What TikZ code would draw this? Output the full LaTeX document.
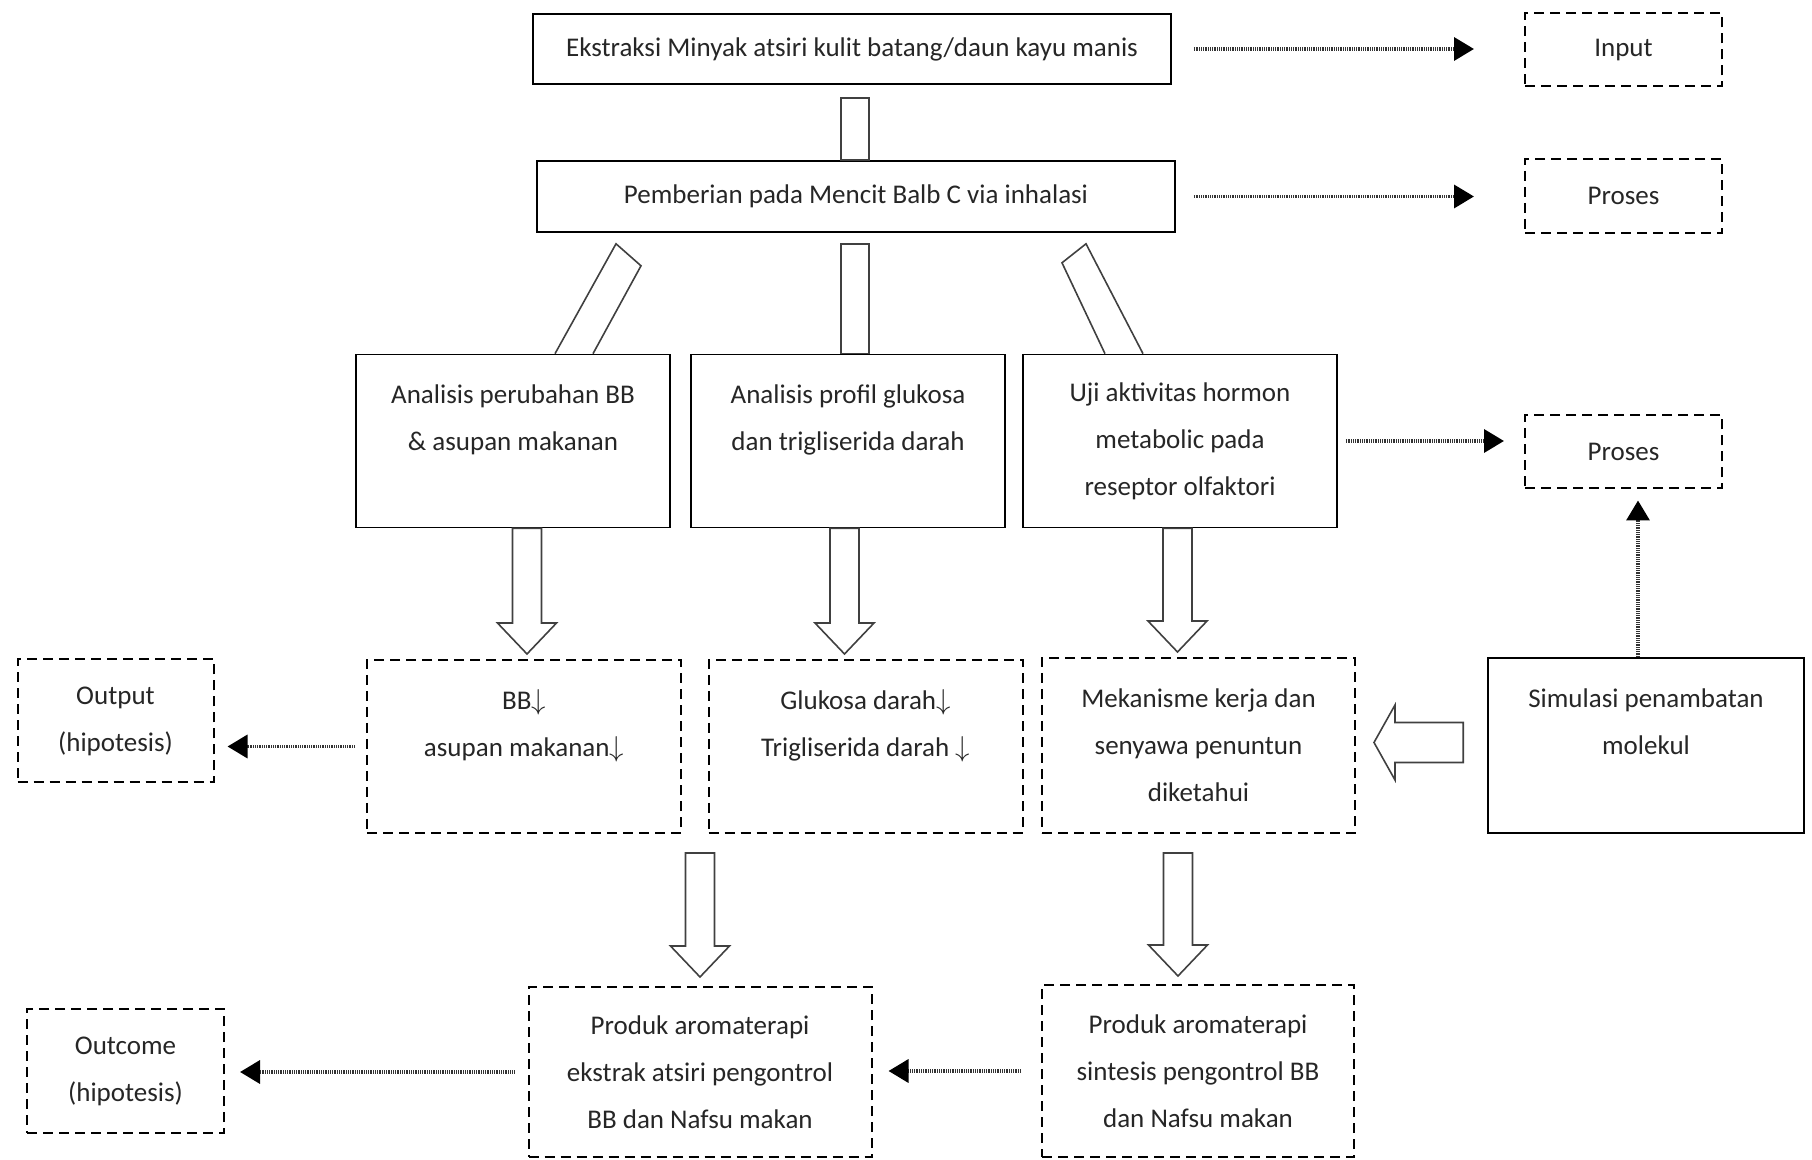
\documentclass[tikz,border=0pt]{standalone}
\usepackage{fontspec}
\setmainfont{Carlito}
\usetikzlibrary{calc,arrows.meta}

\newcommand{\fatdown}[2]{%
  \draw[fat] let \p1=(#1), \p2=(#2) in
    (\x2-7.25pt,\y1) -- (\x2-7.25pt,\y2+15.5pt) -- (\x2-14.75pt,\y2+15.5pt)
    -- (\x2,\y2) -- (\x2+14.75pt,\y2+15.5pt) -- (\x2+7.25pt,\y2+15.5pt)
    -- (\x2+7.25pt,\y1) -- cycle;}
\newcommand{\fatleft}[2]{%
  \draw[fat] let \p1=(#1), \p2=(#2) in
    (\x1,\y2+10pt) -- (\x2+10.5pt,\y2+10pt) -- (\x2+10.5pt,\y2+18.75pt)
    -- (\x2,\y2) -- (\x2+10.5pt,\y2-18.75pt) -- (\x2+10.5pt,\y2-10pt)
    -- (\x1,\y2-10pt) -- cycle;}
\newcommand{\fatbar}[2]{%
  \draw[fat] let \p1=(#1), \p2=(#2) in
    (\x2-7pt,\y1) rectangle (\x2+7pt,\y2);}

\begin{document}
\begin{tikzpicture}
[x=0.5pt,y=-0.5pt,%
  every node/.style={font=\fontsize{13.5}{23.5}\selectfont,text=black!85,align=center},%
  box/.style={draw,line width=0.8pt,inner sep=0pt},%
  dashbox/.style={draw,line width=1pt,dash pattern=on 5pt off 3pt,inner sep=0pt},%
  fat/.style={draw=black!75,line width=0.8pt},%
  dotarrow/.style={draw=black!80,line width=1.7pt,dash pattern=on 0.5pt off 0.4pt,%
    -{Triangle[length=10pt,width=11.5pt,black]}}]
\useasboundingbox (0,0) rectangle (1812,1160);
\node[box,minimum width=319pt,minimum height=35pt] (ekstraksi) at (852,49)
  {Ekstraksi Minyak atsiri kulit batang/daun kayu manis};
\node[box,minimum width=319pt,minimum height=35.5pt] (pemberian) at (856,196.5)
  {Pemberian pada Mencit Balb C via inhalasi};
\node[dashbox,minimum width=98.5pt,minimum height=36.5pt] (input) at (1623.5,50) {Input};
\node[dashbox,minimum width=98.5pt,minimum height=37pt] (prosesatas) at (1623.5,196) {Proses};
\node[box,minimum width=157pt,minimum height=86.5pt] (anbb) at (513,441)
  {Analisis perubahan BB\\\& asupan makanan\\~};
\node[box,minimum width=157pt,minimum height=86.5pt] (anglu) at (848,441)
  {Analisis profil glukosa\\dan trigliserida darah\\~};
\node[box,minimum width=157pt,minimum height=86.5pt] (ujihormon) at (1180,441)
  {Uji aktivitas hormon\\metabolic pada\\reseptor olfaktori};
\node[dashbox,minimum width=98.5pt,minimum height=36.5pt] (prosestengah) at (1623.5,452) {Proses};
\node[dashbox,minimum width=98pt,minimum height=61.5pt] (output) at (115.5,721)
  {Output\\(hipotesis)};
\node[dashbox,minimum width=157pt,minimum height=86.5pt] (bbturun) at (524,746.5)
  {BB$\downarrow$\\asupan makanan$\downarrow$\\~};
\node[dashbox,minimum width=157pt,minimum height=86.5pt] (gluturun) at (865.5,746.5)
  {Glukosa darah$\downarrow$\\Trigliserida darah $\downarrow$\\~};
\node[dashbox,minimum width=156.5pt,minimum height=87.5pt] (mekanisme) at (1198.5,745.5)
  {Mekanisme kerja dan\\senyawa penuntun\\diketahui};
\node[box,minimum width=158pt,minimum height=87.5pt] (simulasi) at (1646,745.5)
  {Simulasi penambatan\\molekul\\~};
\node[dashbox,minimum width=98.5pt,minimum height=62pt] (outcome) at (125.5,1071)
  {Outcome\\(hipotesis)};
\node[dashbox,minimum width=171.5pt,minimum height=85pt] (produkekstrak) at (700,1072)
  {Produk aromaterapi\\ekstrak atsiri pengontrol\\BB dan Nafsu makan};
\node[dashbox,minimum width=156pt,minimum height=86pt] (produksintesis) at (1198,1071)
  {Produk aromaterapi\\sintesis pengontrol BB\\dan Nafsu makan};
\fatbar{$(ekstraksi.south)+(0,13)$}{$(pemberian.north)+(-1,0)$}
\fatbar{$(pemberian.south)+(0,11)$}{$(anglu.north)+(7,0)$}
\draw[fat] ($(anbb.north)+(42,0)$) -- ($(pemberian.south)+(-240,11)$)
  -- ($(pemberian.south)+(-215,33)$) -- ($(anbb.north)+(80,0)$);
\draw[fat] ($(ujihormon.north)+(-75,0)$) -- ($(pemberian.south)+(206,30)$)
  -- ($(pemberian.south)+(230,11)$) -- ($(ujihormon.north)+(-37,0)$);
\fatdown{anbb.south}{$(bbturun.north)+(3,-5)$}
\fatdown{anglu.south}{$(gluturun.north)+(-21,-5)$}
\fatdown{ujihormon.south}{$(mekanisme.north)+(-21,-5)$}
\fatdown{$(bbturun.south)+(0,19)$}{$(produkekstrak.north)+(0,-9)$}
\fatdown{$(mekanisme.south)+(0,19)$}{$(produksintesis.north)+(-20,-8)$}
\fatleft{$(simulasi.west)+(-24,0)$}{$(mekanisme.east)+(18,-3)$}
\draw[dotarrow,shorten <=11pt,shorten >=25pt] (ekstraksi.east) -- (ekstraksi.east -| input.west);
\draw[dotarrow,shorten <=9pt,shorten >=25pt] (pemberian.east) -- (pemberian.east -| prosesatas.west);
\draw[dotarrow,shorten <=4pt,shorten >=10pt] (ujihormon.east) -- (ujihormon.east -| prosestengah.west);
\coordinate (simatas) at ($(simulasi.north)+(-8,0)$);
\draw[dotarrow,shorten >=5.5pt] (simatas) -- (simatas |- prosestengah.south);
\draw[dotarrow,shorten <=5.5pt,shorten >=6.5pt] (bbturun.west) -- (bbturun.west -| output.east);
\draw[dotarrow,shorten <=6.5pt,shorten >=7.5pt] (produkekstrak.west) -- (produkekstrak.west -| outcome.east);
\draw[dotarrow,shorten <=10pt,shorten >=8pt] (produksintesis.west) -- (produksintesis.west -| produkekstrak.east);
\end{tikzpicture}
\end{document}
